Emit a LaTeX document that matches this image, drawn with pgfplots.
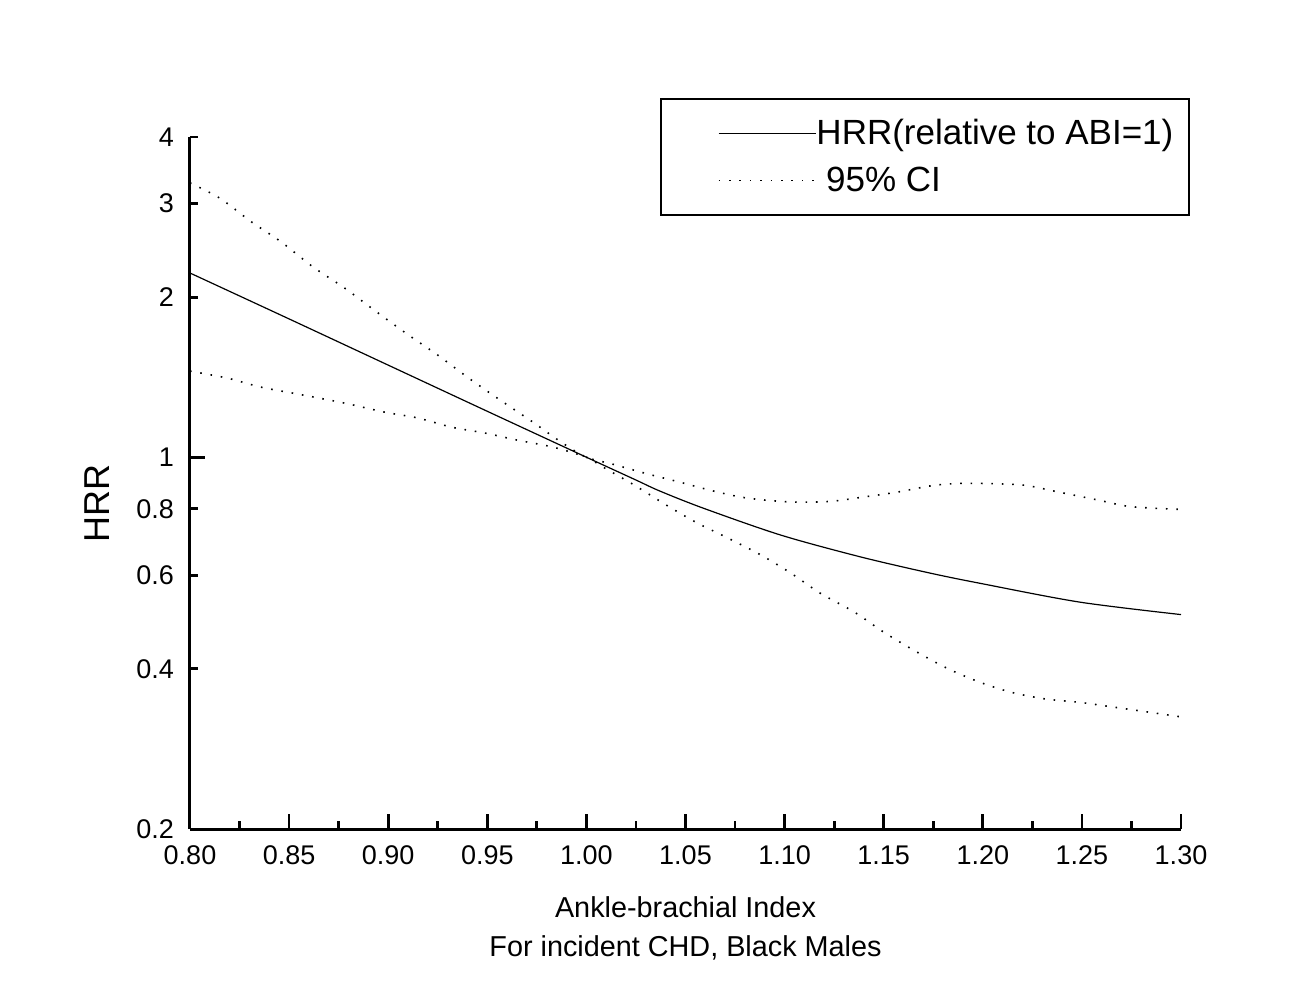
\documentclass[border=0pt]{standalone}
\usepackage{pgfplots}
\pgfplotsset{compat=1.18}
\usepackage{fontspec}
\setmainfont{Liberation Sans}

\begin{document}
\begin{tikzpicture}
\useasboundingbox (-95pt,-75.5pt) rectangle (555pt,414.5pt);
\begin{axis}[
  scale only axis, width=495.5pt, height=346pt,
  at={(0,0)}, anchor=south west,
  ymode=log, xmin=0.8, xmax=1.3, ymin=0.2, ymax=4,
  axis lines=left,
  axis line style={-, line width=1.5pt},
  tick style={black, line width=1.4pt},
  tick align=inside,
  xtick={0.8,0.85,0.9,0.95,1,1.05,1.1,1.15,1.2,1.25,1.3},
  xticklabels={0.80,0.85,0.90,0.95,1.00,1.05,1.10,1.15,1.20,1.25,1.30},
  minor x tick num=1,
  major tick length=7.5pt, minor tick length=4pt,
  ytick={1}, yticklabels={1},
  minor ytick={},
  extra y ticks={0.2,0.4,0.6,0.8,2,3,4},
  extra y tick labels={0.2,0.4,0.6,0.8,2,3,4},
  extra y tick style={major tick length=4pt},
  tick label style={font=\fontsize{13.5}{16}\selectfont},
  xticklabel style={yshift=-5pt},
  yticklabel style={xshift=-4.5pt},
  /pgf/number format/assume math mode=true,
  ylabel={HRR},
  ylabel style={font=\fontsize{18}{21}\selectfont, at={(axis description cs:-0.0938,0.4697)}, anchor=center},
  xlabel={Ankle-brachial Index\\For incident CHD, Black Males},
  xlabel style={align=center, font=\fontsize{14.4}{19.5}\selectfont, at={(axis description cs:0.5,-0.0968)}, anchor=north, inner sep=0pt},
  legend image code/.code={\path[draw=none] (-21pt,0pt) -- (0pt,0pt); \draw[#1] (0pt,0pt) -- (48.5pt,0pt);},
  legend style={at={(axis description cs:0.4743,1.0564)}, anchor=north west, draw=black, line width=1pt,
    minimum width=264pt, minimum height=58pt, inner sep=0pt,
    font=\fontsize{17.5}{21}\selectfont, row sep=9.5pt,
    nodes={inner sep=0pt, minimum width=0pt, minimum height=0pt}},
  legend cell align=left,
]
\addplot[black, line width=0.6pt, smooth] coordinates {
(0.80,2.22) (0.85,1.82) (0.90,1.49) (0.95,1.22) (1.00,1.00) (1.025,0.906)
(1.037,0.864) (1.059,0.802) (1.098,0.714) (1.138,0.650) (1.173,0.606)
(1.199,0.579) (1.249,0.534) (1.30,0.506)
};
\addlegendentry{HRR(relative to ABI=1)}
\addplot[black, line width=0.8pt, dash pattern=on 0.8pt off 4.4pt, smooth] coordinates {
(0.80,3.28) (0.815,3.07) (0.831,2.77) (0.846,2.54) (0.862,2.28) (0.878,2.08)
(0.893,1.89) (0.909,1.71) (0.925,1.556) (0.940,1.414) (0.955,1.292)
(0.973,1.164) (0.988,1.063) (1.00,1.00) (1.013,0.971) (1.031,0.930)
(1.047,0.898) (1.064,0.864) (1.081,0.838) (1.103,0.824) (1.123,0.826)
(1.140,0.842) (1.157,0.860) (1.175,0.885) (1.190,0.893) (1.209,0.891)
(1.222,0.885) (1.237,0.862) (1.258,0.831) (1.274,0.808) (1.296,0.799) (1.30,0.799)
};
\addlegendentry{\ 95\% CI}
\addplot[black, line width=0.8pt, dash pattern=on 0.8pt off 4.4pt, smooth, forget plot] coordinates {
(0.80,1.452) (0.819,1.408) (0.836,1.354) (0.857,1.309) (0.878,1.264)
(0.898,1.216) (0.915,1.185) (0.932,1.139) (0.949,1.110) (0.965,1.077)
(0.983,1.045) (1.00,1.00) (1.008,0.960) (1.024,0.887) (1.041,0.810)
(1.056,0.752) (1.071,0.706) (1.088,0.655) (1.103,0.606) (1.118,0.555)
(1.135,0.512) (1.150,0.469) (1.165,0.434) (1.182,0.401) (1.199,0.377)
(1.215,0.361) (1.232,0.351) (1.249,0.346) (1.266,0.339) (1.283,0.332) (1.30,0.325)
};
\end{axis}
\end{tikzpicture}
\end{document}
